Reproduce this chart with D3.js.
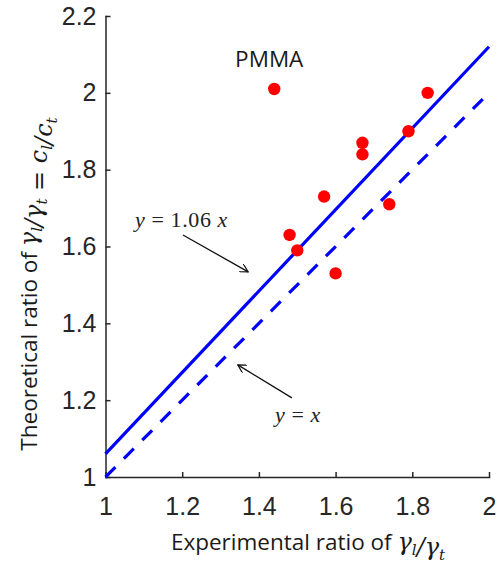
<!DOCTYPE html>
<meta charset="utf-8">

<style type="text/css">
html, body {
    margin: 0;
    background-color: white;
}

.chart__axis line,
.chart__axis path {
    stroke: #262626;
    stroke-width: 1.5;
}

.chart__axis text {
    fill: #262626;
    font-family: "Liberation Sans", Arial, sans-serif;
    font-size: 25px;
}

.fit {
    fill: none;
    stroke: #0000ff;
    stroke-width: 3.2;
}

.math {
    font-family: "Liberation Serif", "DejaVu Serif", serif;
    font-style: italic;
}

.gmath {
    font-family: "DejaVu Serif", "Liberation Serif", serif;
    font-style: italic;
}

.title {
    font-family: "Open Sans", "Noto Sans", sans-serif;
    font-size: 22.5px;
    fill: #1a1a1a;
}
</style>

<body>
</body>

<script src="https://d3js.org/d3.v7.min.js"></script>
<script>

// data
var expRatio = [1.44, 1.84, 1.79, 1.67, 1.67, 1.57, 1.74, 1.48, 1.50, 1.60];
var theoRatio = [2.01, 2.00, 1.90, 1.87, 1.84, 1.73, 1.71, 1.63, 1.59, 1.53];
var xTicks = [1, 1.2, 1.4, 1.6, 1.8, 2];
var yTicks = [1, 1.2, 1.4, 1.6, 1.8, 2, 2.2];
var fitSlope = 1.06;
var fitRange = [1, 2];
var identityRange = [1, 2];

var width = 503, height = 564;

var xScale = d3.scaleLinear()
    .domain([1, 2])
    .range([105.5, 489]);

var yScale = d3.scaleLinear()
    .domain([1, 2.2])
    .range([477, 16]);

var svg = d3.select("body").append("svg")
    .attr("width", width)
    .attr("height", height);

// axes (ticks point inward)
svg.append("g")
    .attr("class", "chart__axis")
    .attr("transform", "translate(0," + yScale(1) + ")")
    .call(d3.axisBottom(xScale).tickValues(xTicks).tickSizeInner(-5).tickSizeOuter(0)
        .tickPadding(20).tickFormat(d3.format("")));

svg.append("g")
    .attr("class", "chart__axis")
    .attr("transform", "translate(" + xScale(1) + ",0)")
    .call(d3.axisLeft(yScale).tickValues(yTicks).tickSizeInner(-5).tickSizeOuter(0)
        .tickPadding(9).tickFormat(d3.format("")));

svg.selectAll(".chart__axis .domain").attr("stroke-linecap", "square");

// lines
var line = d3.line()
    .x(function(d) { return xScale(d[0]); })
    .y(function(d) { return yScale(d[1]); });

svg.append("path")
    .datum(fitRange.map(function(x) { return [x, fitSlope * x]; }))
    .attr("class", "fit")
    .attr("d", line);

svg.append("path")
    .datum(identityRange.map(function(x) { return [x, x]; }))
    .attr("class", "fit")
    .attr("stroke-dasharray", "14,12")
    .attr("d", line);

// points
svg.selectAll(".dot")
    .data(expRatio)
    .enter().append("circle")
    .attr("class", "dot")
    .attr("cx", function(d) { return xScale(d); })
    .attr("cy", function(d, i) { return yScale(theoRatio[i]); })
    .attr("r", 6.2)
    .attr("fill", "#ff0000");

// arrow marker
svg.append("defs").append("marker")
    .attr("id", "arr")
    .attr("viewBox", "0 0 10 10")
    .attr("refX", 9).attr("refY", 5)
    .attr("markerWidth", 9).attr("markerHeight", 9)
    .attr("markerUnits", "userSpaceOnUse")
    .attr("orient", "auto")
  .append("path")
    .attr("d", "M0,0 L9,5 L0,10")
    .attr("fill", "none")
    .attr("stroke", "#111")
    .attr("stroke-width", 1.3);

var arrows = [
    [[1.202, 1.630], [1.372, 1.534]],
    [[1.486, 1.206], [1.345, 1.292]]
];
svg.selectAll(".arrow")
    .data(arrows)
    .enter().append("path")
    .attr("class", "arrow")
    .attr("d", line)
    .attr("stroke", "#111")
    .attr("stroke-width", 1.3)
    .attr("marker-end", "url(#arr)");

// annotations
svg.append("text")
    .attr("class", "title")
    .attr("x", xScale(1.338))
    .attr("y", yScale(2.068))
    .attr("font-size", 22.5)
    .text("PMMA");

svg.append("text")
    .attr("class", "math")
    .attr("x", xScale(1.077))
    .attr("y", yScale(1.651))
    .attr("font-size", 22)
    .attr("letter-spacing", 0.6)
    .attr("fill", "#222")
    .html("y <tspan font-style='normal'>= 1.06</tspan> x");

svg.append("text")
    .attr("class", "math")
    .attr("x", xScale(1.442))
    .attr("y", yScale(1.144))
    .attr("font-size", 22)
    .attr("letter-spacing", 0.6)
    .attr("fill", "#222")
    .html("y <tspan font-style='normal'>=</tspan> x");

// axis titles
var sub = function(s) {
    return "<tspan font-size='15' dy='5'>" + s + "</tspan><tspan dy='-5'></tspan>";
};

svg.append("text")
    .attr("class", "title")
    .attr("x", 308)
    .attr("y", 550)
    .attr("text-anchor", "middle")
    .html("Experimental ratio of <tspan class='gmath' font-size='24'>γ" + sub("l") + "/γ" + sub("t") + "</tspan>");

svg.append("text")
    .attr("class", "title")
    .attr("transform", "translate(37," + 284 + ") rotate(-90)")
    .attr("text-anchor", "middle")
    .html("Theoretical ratio of <tspan class='gmath' font-size='24'>γ" + sub("l") + "/γ" + sub("t")
        + " <tspan font-style='normal'>=</tspan> c" + sub("l") + "/c" + sub("t") + "</tspan>");

</script>
